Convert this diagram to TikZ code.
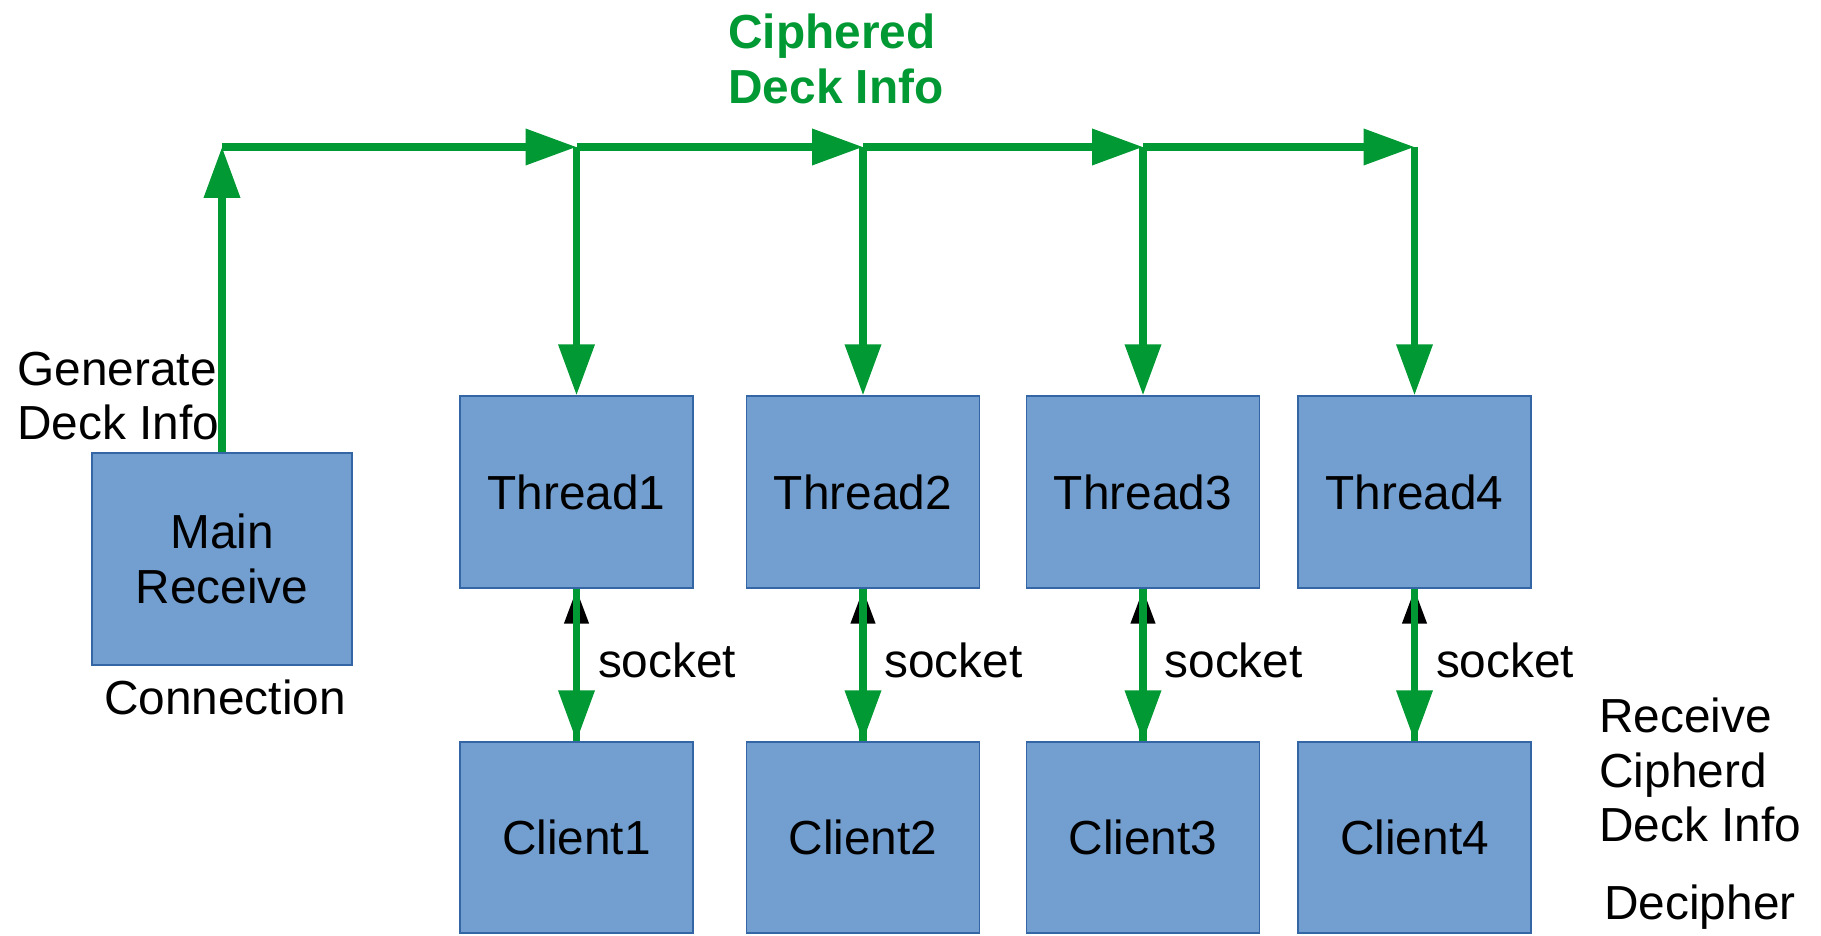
\documentclass[tikz,border=0pt]{standalone}
\usepackage{fontspec}
\setmainfont{Liberation Sans}
\usetikzlibrary{arrows.meta,positioning,calc}

\begin{document}
\begin{tikzpicture}
                \definecolor{boxfill}{RGB}{114,159,207}
                \definecolor{boxline}{RGB}{52,101,164}
                \definecolor{flowgreen}{RGB}{0,153,51}

                \tikzset{
                    block/.style={draw=boxline, fill=boxfill, line width=0.8pt, minimum width=4.66cm, minimum height=3.84cm, font=\fontsize{27.2}{31}\selectfont, align=center},
                    lbl/.style={font=\fontsize{27.2}{31}\selectfont, align=left, inner sep=0pt},
                    flow/.style={draw=flowgreen, line width=4pt, -{Triangle[length=1.02cm, width=0.7cm, fill=flowgreen]}},
                    backtip/.style={draw=flowgreen, line width=4pt, -{Triangle[length=0.7cm, width=0.46cm, fill=black, color=black]}}
                }

                \useasboundingbox (0,0) rectangle (36.42,18.7);

                % Main receive box
                \node[block, minimum width=5.2cm, minimum height=4.24cm] (main) at (4.44,7.52) {Main\\Receive};
                \node[lbl, anchor=north] (conn) at ($(main.south)+(0.06,-0.28)$) {Connection};
                \node[lbl, anchor=west] (gen) at (0.34,10.78) {Generate\\Deck Info};

                % Threads and clients
                \node[block] (thread1) at (11.53,8.86) {Thread1};
                \node[block] (thread2) at (17.26,8.86) {Thread2};
                \node[block] (thread3) at (22.86,8.86) {Thread3};
                \node[block] (thread4) at (28.29,8.86) {Thread4};
                \node[block, minimum height=3.82cm] (client1) at (11.53,1.95) {Client1};
                \node[block, minimum height=3.82cm] (client2) at (17.26,1.95) {Client2};
                \node[block, minimum height=3.82cm] (client3) at (22.86,1.95) {Client3};
                \node[block, minimum height=3.82cm] (client4) at (28.29,1.95) {Client4};

                % Side labels
                \node[lbl, anchor=west, text=flowgreen, font=\fontsize{27.2}{31}\selectfont\bfseries] (ciph) at (14.56,17.52) {Ciphered\\Deck Info};
                \node[lbl, anchor=west] (recv) at (31.98,3.3) {Receive\\Cipherd\\Deck Info};
                \node[lbl, anchor=west] (deci) at (32.08,0.56) {Decipher};

                % Broadcast line above the threads
                \coordinate (corner) at (main.north |- 0,15.76);
                \coordinate (top1) at (thread1.north |- corner);
                \coordinate (top2) at (thread2.north |- corner);
                \coordinate (top3) at (thread3.north |- corner);
                \coordinate (top4) at (thread4.north |- corner);

                \draw[flow] (main.north) -- (corner);
                \draw[flow] (corner) -- (top1);
                \draw[flow] (top1) -- (top2);
                \draw[flow] (top2) -- (top3);
                \draw[flow] (top3) -- (top4);
                \draw[flow] (top1) -- (thread1.north);
                \draw[flow] (top2) -- (thread2.north);
                \draw[flow] (top3) -- (thread3.north);
                \draw[flow] (top4) -- (thread4.north);

                % Socket links, black tip under the green line
                \foreach \i in {1,...,4} {
                    \draw[backtip] (client\i.north) -- (thread\i.south);
                    \draw[flow] (thread\i.south) -- (client\i.north)
                        node[lbl, midway, right=0.36cm, yshift=0.1cm] (sock\i) {socket};
                }
            \end{tikzpicture}
\end{document}
